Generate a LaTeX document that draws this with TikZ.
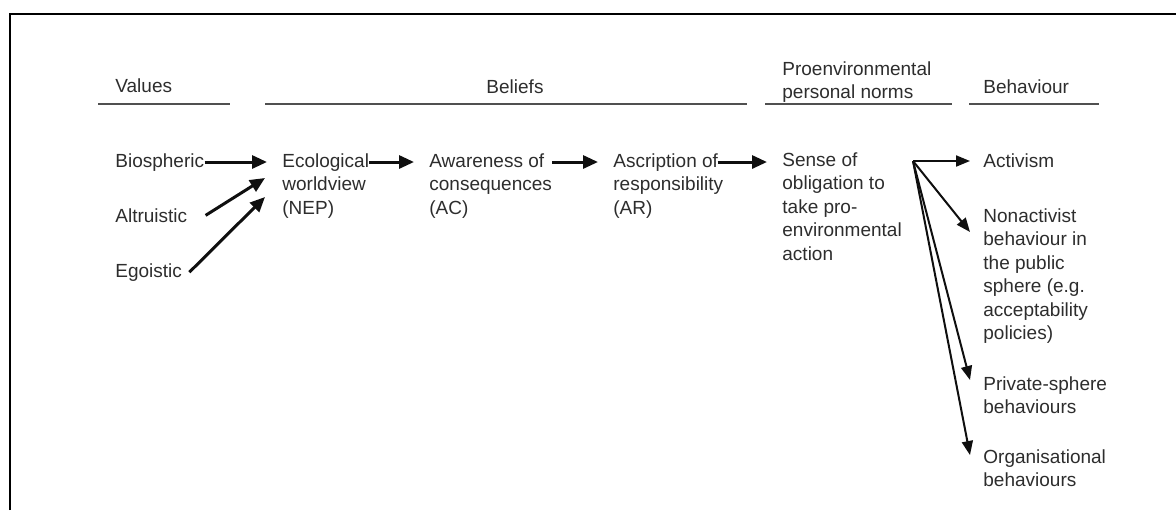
\documentclass[tikz,border=0pt]{standalone}
\usepackage{fontspec}
\setmainfont{Liberation Sans}
\usepackage{tikz}
\usetikzlibrary{arrows.meta, positioning, calc}
\definecolor{mydark}{RGB}{15,15,15}
\definecolor{mytext}{RGB}{45,45,45}
\definecolor{myrule}{RGB}{80,80,80}
\tikzset{
  txt/.style={inner sep=0pt, anchor=north west, align=left, text=mytext,
    font=\fontsize{9.5}{11.75}\selectfont},
  rule/.style={line width=1pt, color=myrule},
  arrow/.style={-{Triangle[length=7.5pt,width=6.5pt]}, line width=1.5pt,
    color=mydark},
  fork/.style={-{Triangle[length=7pt,width=5.5pt]}, line width=1pt, color=mydark}
}

\begin{document}
\begin{tikzpicture}[x=0.5pt, y=-0.5pt]
    \useasboundingbox (0,0) rectangle (1176,510);
    \draw[line width=1pt] (10,510) -- (10,14) -- (1176,14);
    % column headers
    \node[txt] (hval) at (115,78) {Values};
    \node[txt, anchor=north] (hbel) at (515,79) {Beliefs};
    \node[txt] (hnorm) at (782,61) {Proenvironmental\\personal norms};
    \node[txt] (hbeh) at (983,79) {Behaviour};
    \draw[rule] (98,104) -- (230,104);
    \draw[rule] (265,104) -- (747,104);
    \draw[rule] (765,104) -- (952,104);
    \draw[rule] (969,104) -- (1099,104);
    % values
    \node[txt] (bio) at (115,153) {Biospheric};
    \node[txt] (alt) at (115,208) {Altruistic};
    \node[txt] (ego) at (115,263) {Egoistic};
    % beliefs and norms
    \node[txt] (nep) at (282,153) {Ecological\\worldview\\(NEP)};
    \node[txt] (ac) at (429,153) {Awareness of\\consequences\\(AC)};
    \node[txt] (ar) at (613,153) {Ascription of\\responsibility\\(AR)};
    \node[txt] (son) at (782,152) {Sense of\\obligation to\\take pro-\\environmental\\action};
    % behaviour
    \node[txt] (act) at (983,153) {Activism};
    \node[txt] (nona) at (983,208) {Nonactivist\\behaviour in\\the public\\sphere (e.g.\\acceptability\\policies)};
    \node[txt] (priv) at (983,376) {Private-sphere\\behaviours};
    \node[txt] (org) at (983,449) {Organisational\\behaviours};
    % main chain
    \coordinate (row) at (0,162);
    \draw[arrow, shorten >=7.5pt] (row -| bio.east) -- (row -| nep.west);
    \draw[arrow] ([shift={(18,0)}]alt.east) -- ([shift={(-17,25)}]nep.north west);
    \draw[arrow] ([shift={(7,0)}]ego.east) -- ([shift={(-17,44)}]nep.north west);
    \draw[arrow, shorten >=7.5pt] (row -| nep.east) -- (row -| ac.west);
    \draw[arrow, shorten >=7.5pt] (row -| ac.east) -- (row -| ar.west);
    \draw[arrow, shorten >=7.5pt] ([xshift=-3pt]row -| ar.east) -- (row -| son.west);
    % fork to behaviours
    \coordinate (split) at (913,161);
    \draw[fork, shorten >=6.5pt] (split) -- (split -| act.west);
    \draw[fork] (split) -- ([shift={(-13,24)}]nona.north west);
    \draw[fork] (split) -- ([shift={(-13,4)}]priv.north west);
    \draw[fork] (split) -- ([shift={(-13,6)}]org.north west);
\end{tikzpicture}
\end{document}
